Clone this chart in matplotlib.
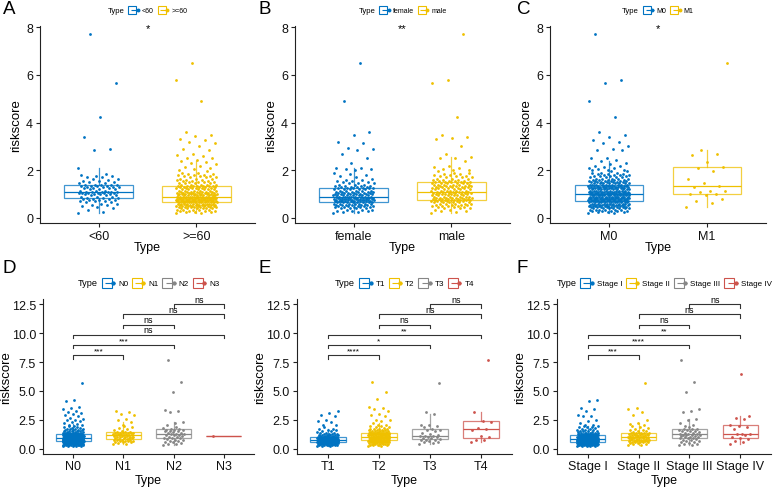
import numpy as np
import matplotlib
matplotlib.use("Agg")
import matplotlib.pyplot as plt
from matplotlib.lines import Line2D
from matplotlib.legend_handler import HandlerTuple
from matplotlib.colors import to_rgba
from matplotlib.ticker import FormatStrFormatter

plt.rcParams["font.family"] = ["Liberation Sans", "DejaVu Sans"]

W, H = 778, 489
COLORS = ["#0073C2", "#EFC000", "#868686", "#CD534C"]

# riskscore values are given as counts per 0.05 bin (bulk) plus the single high points
BINS = [0.20, 0.25, 0.30, 0.35, 0.40, 0.45, 0.50, 0.55, 0.60, 0.65,
        0.70, 0.75, 0.80, 0.85, 0.90, 0.95, 1.00, 1.05, 1.10, 1.15,
        1.20, 1.25, 1.30, 1.35, 1.40, 1.45, 1.50, 1.55, 1.60, 1.65,
        1.70, 1.75, 1.80, 1.85, 1.90, 1.95]

# A: age
AGE_LABELS = ["<60", ">=60"]
AGE_LT60_COUNTS = [1, 1, 0, 1, 1, 1, 1, 2, 2, 2, 3, 3, 3, 3, 3, 3, 4, 6, 6, 3,
                   3, 3, 4, 4, 5, 2, 2, 2, 1, 2, 2, 2, 1, 1, 0, 0]
AGE_LT60_HIGH = [7.7, 5.65, 4.25, 3.4, 2.9, 2.85, 2.1]
AGE_GE60_COUNTS = [2, 3, 4, 5, 6, 7, 8, 9, 10, 12, 13, 13, 13, 13, 13, 10, 9, 8, 7, 6,
                   6, 6, 6, 7, 5, 4, 4, 3, 3, 3, 3, 3, 3, 2, 2, 1]
AGE_GE60_HIGH = [6.5, 5.8, 4.9, 3.6, 3.5, 3.45, 3.3, 3.25, 3.2, 3.15, 3.0, 2.9, 2.85, 2.7,
                 2.65, 2.6, 2.5, 2.5, 2.45, 2.4, 2.35, 2.3, 2.25, 2.2, 2.15, 2.1, 2.05, 2.0]
AGE_SIG = "*"

# B: gender
SEX_LABELS = ["female", "male"]
SEX_F_COUNTS = [1, 2, 3, 3, 4, 5, 5, 6, 7, 8, 9, 9, 9, 9, 9, 8, 7, 6, 6, 5,
                5, 6, 4, 4, 3, 3, 2, 2, 2, 1, 1, 1, 1, 1, 1, 0]
SEX_F_HIGH = [6.5, 4.9, 3.6, 3.5, 3.2, 3.15, 2.95, 2.9, 2.85, 2.7, 2.5, 2.3, 2.1, 2.1,
              2.05, 2.05, 2.0]
SEX_M_COUNTS = [1, 1, 2, 2, 3, 3, 4, 4, 5, 6, 6, 7, 7, 7, 6, 6, 6, 6, 6, 6,
                5, 5, 5, 6, 6, 6, 5, 4, 3, 3, 3, 3, 2, 2, 2, 1]
SEX_M_HIGH = [7.7, 5.8, 5.65, 4.25, 3.5, 3.4, 3.35, 3.3, 3.0, 2.7, 2.55, 2.5, 2.5, 2.4,
              2.2, 2.15, 2.1, 2.05, 2.0, 2.0]
SEX_SIG = "**"

# C: M stage
M_LABELS = ["M0", "M1"]
M0_COUNTS = [2, 3, 5, 6, 7, 8, 9, 10, 11, 11, 12, 13, 13, 14, 14, 14, 13, 12, 11, 10,
             10, 10, 10, 10, 9, 8, 7, 6, 5, 5, 4, 4, 4, 3, 3, 2]
M0_HIGH = [7.7, 5.8, 5.65, 4.9, 4.25, 3.6, 3.5, 3.4, 3.25, 3.2, 3.15, 3.0, 2.9, 2.85,
           2.85, 2.5, 2.5, 2.45, 2.4, 2.3, 2.25, 2.2, 2.2, 2.15, 2.1, 2.1, 2.05, 2.0,
           2.0, 2.0]
M1_VALUES = [0.48, 0.62, 0.72, 0.8, 0.95, 1.0, 1.02, 1.08, 1.12, 1.15, 1.3, 1.35, 1.45,
             1.65, 1.95, 2.1, 2.15, 2.35, 2.65, 2.7, 2.85, 6.5]
M_SIG = "*"

# D: N stage
N_LABELS = ["N0", "N1", "N2", "N3"]
N0_COUNTS = [2, 3, 4, 5, 5, 6, 7, 8, 9, 10, 11, 11, 11, 11, 13, 10, 9, 8, 7, 8,
             8, 7, 5, 4, 4, 3, 3, 2, 2, 2, 2, 2, 2, 1, 1, 1]
N0_HIGH = [5.65, 4.25, 4.1, 3.6, 3.5, 3.45, 3.3, 3.2, 3.1, 3.0, 2.9, 2.85, 2.7, 2.6,
           2.5, 2.5, 2.4, 2.3, 2.2, 2.15, 2.1, 2.05, 2.0]
N1_COUNTS = [0, 0, 0, 0, 1, 1, 1, 1, 2, 2, 2, 2, 2, 2, 2, 2, 2, 3, 3, 3,
             2, 2, 2, 3, 3, 3, 1, 0, 1, 0, 0, 1, 1, 1, 0, 1]
N1_HIGH = [3.25, 3.2, 3.0, 2.9, 2.6, 2.5, 2.3, 2.05]
N2_COUNTS = [0, 0, 1, 0, 1, 1, 1, 1, 1, 1, 1, 1, 1, 1, 2, 1, 1, 1, 1, 2,
             1, 1, 2, 1, 1, 1, 2, 1, 2, 1, 2, 0, 1, 0, 1, 0]
N2_HIGH = [7.65, 5.8, 4.9, 3.35, 3.3, 3.2, 2.3, 2.2, 2.05]
N3_VALUES = [1.1]
N_SIGS = ["***", "***", "ns", "ns", "ns", "ns"]

# E: T stage
T_LABELS = ["T1", "T2", "T3", "T4"]
T1_COUNTS = [1, 2, 3, 4, 5, 5, 6, 7, 8, 8, 8, 8, 8, 8, 7, 7, 6, 5, 4, 3,
             3, 2, 2, 2, 1, 1, 1, 1, 1, 1, 1, 1, 0, 1, 0, 0]
T1_HIGH = [3.3, 3.1, 2.9, 2.85, 2.5, 2.4, 2.3, 2.1, 2.05]
T2_COUNTS = [1, 1, 2, 2, 3, 3, 4, 4, 5, 6, 6, 6, 6, 6, 6, 5, 5, 5, 5, 5,
             5, 5, 5, 6, 6, 3, 3, 2, 2, 2, 2, 2, 1, 1, 1, 1]
T2_HIGH = [5.8, 4.9, 4.3, 3.6, 3.5, 3.4, 3.3, 3.0, 2.9, 2.8, 2.5, 2.45, 2.4, 2.2, 2.1,
           2.05, 2.0]
T3_VALUES = [0.4, 0.5, 0.55, 0.6, 0.7, 0.75, 0.78, 0.8, 0.82, 0.9, 0.95, 1.0, 1.05, 1.08,
             1.1, 1.12, 1.2, 1.3, 1.4, 1.5, 1.6, 1.65, 1.7, 1.9, 2.0, 2.05, 2.1, 3.0,
             3.2, 5.65]
T4_VALUES = [0.55, 0.72, 0.75, 1.05, 1.1, 1.65, 1.7, 1.8, 2.35, 2.4, 3.15, 7.65]
T_SIGS = ["****", "*", "**", "ns", "ns", "ns"]

# F: stage
S_LABELS = ["Stage I", "Stage II", "Stage III", "Stage IV"]
S1_COUNTS = [2, 3, 4, 5, 6, 7, 8, 8, 9, 10, 10, 10, 11, 10, 10, 9, 8, 7, 7, 7,
             5, 4, 4, 3, 3, 2, 2, 2, 2, 1, 1, 1, 1, 2, 1, 1]
S1_HIGH = [4.25, 4.1, 3.5, 3.45, 3.3, 2.9, 2.85, 2.8, 2.5, 2.4, 2.2, 2.1, 2.05, 2.0]
S2_COUNTS = [0, 0, 1, 1, 1, 1, 2, 2, 3, 3, 3, 3, 3, 3, 3, 3, 3, 3, 3, 3,
             3, 2, 2, 3, 3, 1, 1, 1, 1, 1, 1, 0, 1, 0, 1, 1]
S2_HIGH = [5.65, 3.55, 3.4, 3.15, 2.9, 2.5, 2.2, 2.15, 2.05]
S3_COUNTS = [0, 0, 1, 1, 1, 1, 1, 1, 1, 1, 1, 1, 1, 1, 2, 1, 2, 1, 2, 2,
             2, 2, 1, 1, 1, 1, 2, 1, 1, 1, 1, 2, 0, 1, 0, 0]
S3_HIGH = [7.65, 5.8, 4.9, 3.4, 3.3, 3.2, 2.55, 2.5, 2.2, 2.05, 2.0]
S4_VALUES = [0.45, 0.55, 0.65, 0.85, 0.9, 1.0, 1.2, 1.25, 1.28, 1.32, 1.75, 1.9, 2.0,
             2.05, 2.6, 2.65, 2.8, 6.5]
S_SIGS = ["***", "****", "**", "ns", "ns", "ns"]

PAIRS = [(1, 2), (1, 3), (1, 4), (2, 3), (2, 4), (3, 4)]


def group(counts=None, extra=()):
    parts = []
    if counts is not None:
        parts.append(np.repeat(BINS, counts))
    parts.append(np.asarray(extra, dtype=float))
    return np.concatenate(parts)


def px_axes(fig, left, top, right, bottom):
    return fig.add_axes([left / W, 1 - bottom / H, (right - left) / W, (bottom - top) / H])


def add_legend(ax, labels, yoff, title_fs, label_fs, ms):
    handles = []
    for i in range(len(labels)):
        c = COLORS[i]
        box = Line2D([], [], ls="", marker="s", ms=ms, mfc="white", mec=c, mew=0.8)
        mid = Line2D([], [], ls="", marker="_", ms=ms, mec=c, mew=0.8)
        dot = Line2D([], [], ls="", marker="o", ms=ms * 0.3, color=c)
        handles.append((box, mid, dot))
    leg = ax.legend(handles, labels, handler_map={tuple: HandlerTuple(ndivide=None)},
                    loc="center", bbox_to_anchor=(0.5, yoff), ncol=len(labels),
                    frameon=False, fontsize=label_fs, title="Type",
                    title_fontsize=title_fs, handlelength=1.2, handletextpad=0.4,
                    columnspacing=0.9, borderaxespad=0, borderpad=0)
    # put the title to the left of the keys, like ggplot
    vbox = leg._legend_box
    title_box, handle_box = vbox.get_children()
    vbox._children = [handle_box]
    handle_box._children = [title_box] + list(handle_box.get_children())


def draw_groups(ax, groups):
    for i, vals in enumerate(groups):
        c = COLORS[i]
        p = i + 1
        ax.boxplot([vals], positions=[p], widths=0.7, showfliers=False, showcaps=False,
                   patch_artist=True,
                   boxprops=dict(facecolor="white", edgecolor=to_rgba(c, 0.75), lw=0.9),
                   whiskerprops=dict(color=to_rgba(c, 0.75), lw=0.9),
                   medianprops=dict(color=c, lw=0.9))
        n = len(vals)
        jit = ((np.arange(n) * 0.6180339887) % 1 - 0.5) * 0.42
        ax.scatter(p + jit, vals, s=4, color=c, lw=0, zorder=3)
    ax.set_xlim(0.4, len(groups) + 0.6)
    for s in ["top", "right"]:
        ax.spines[s].set_visible(False)
    for s in ["left", "bottom"]:
        ax.spines[s].set_linewidth(0.8)
        ax.spines[s].set_color("#222222")
    ax.tick_params(length=3, width=0.8, labelsize=9, pad=2, color="#222222",
                   labelcolor="#111111")


fig = plt.figure(figsize=(W / 100, H / 100), dpi=100)
fig.patch.set_facecolor("white")

top_panels = [
    ("A", (40, 27, 255, 224), AGE_LABELS,
     [group(AGE_LT60_COUNTS, AGE_LT60_HIGH), group(AGE_GE60_COUNTS, AGE_GE60_HIGH)], AGE_SIG, 3),
    ("B", (295, 27, 510, 224), SEX_LABELS,
     [group(SEX_F_COUNTS, SEX_F_HIGH), group(SEX_M_COUNTS, SEX_M_HIGH)], SEX_SIG, 259),
    ("C", (550, 27, 766, 224), M_LABELS,
     [group(M0_COUNTS, M0_HIGH), group(None, M1_VALUES)], M_SIG, 517),
]

for letter, box, labels, groups, sig, lx in top_panels:
    ax = px_axes(fig, *box)
    draw_groups(ax, groups)
    ax.set_ylim(-0.21, 8.05)
    ax.set_yticks([0, 2, 4, 6, 8])
    ax.set_xticks(range(1, len(labels) + 1), labels)
    ax.set_xlabel("Type", fontsize=9, labelpad=-1)
    ax.set_ylabel("riskscore", fontsize=9.5, labelpad=3)
    ax.text(1.5, 7.95, sig, ha="center", va="center", fontsize=8)
    add_legend(ax, labels, 1 + 15 / 197, 5.6, 5, 6)
    fig.text(lx / W, 1 - 1 / H, letter, fontsize=13.5, ha="left", va="top")

bottom_panels = [
    ("D", (43, 300, 254, 455), N_LABELS,
     [group(N0_COUNTS, N0_HIGH), group(N1_COUNTS, N1_HIGH), group(N2_COUNTS, N2_HIGH),
      group(None, N3_VALUES)], N_SIGS, 3),
    ("E", (297, 300, 512, 455), T_LABELS,
     [group(T1_COUNTS, T1_HIGH), group(T2_COUNTS, T2_HIGH), group(None, T3_VALUES),
      group(None, T4_VALUES)], T_SIGS, 259),
    ("F", (557, 300, 771, 455), S_LABELS,
     [group(S1_COUNTS, S1_HIGH), group(S2_COUNTS, S2_HIGH), group(S3_COUNTS, S3_HIGH),
      group(None, S4_VALUES)], S_SIGS, 517),
]

for letter, box, labels, groups, sigs, lx in bottom_panels:
    ax = px_axes(fig, *box)
    draw_groups(ax, groups)
    ax.tick_params(axis="x", pad=1.5)
    ax.set_ylim(-0.45, 12.95)
    ax.set_yticks([0, 2.5, 5, 7.5, 10, 12.5])
    ax.yaxis.set_major_formatter(FormatStrFormatter("%.1f"))
    ax.set_xticks(range(1, len(labels) + 1), labels)
    ax.set_xlabel("Type", fontsize=9, labelpad=1)
    ax.set_ylabel("riskscore", fontsize=9.5, labelpad=0)
    for k, ((a, b), lab) in enumerate(zip(PAIRS, sigs)):
        y = 8.1 + 0.88 * k
        ax.plot([a, a, b, b], [y - 0.3, y, y, y - 0.3], color="#333333", lw=0.8,
                clip_on=False)
        if lab == "ns":
            ax.text((a + b) / 2, y + 0.05, lab, ha="center", va="bottom", fontsize=6.5,
                    clip_on=False)
        else:
            ax.text((a + b) / 2, y + 0.35, lab, ha="center", va="center", fontsize=6,
                    clip_on=False)
    add_legend(ax, labels, 1 + 16 / 155, 6.6, 5.8, 7)
    fig.text(lx / W, 1 - 260 / H, letter, fontsize=13.5, ha="left", va="top")

fig.savefig("out.png", dpi=100, facecolor="white")
